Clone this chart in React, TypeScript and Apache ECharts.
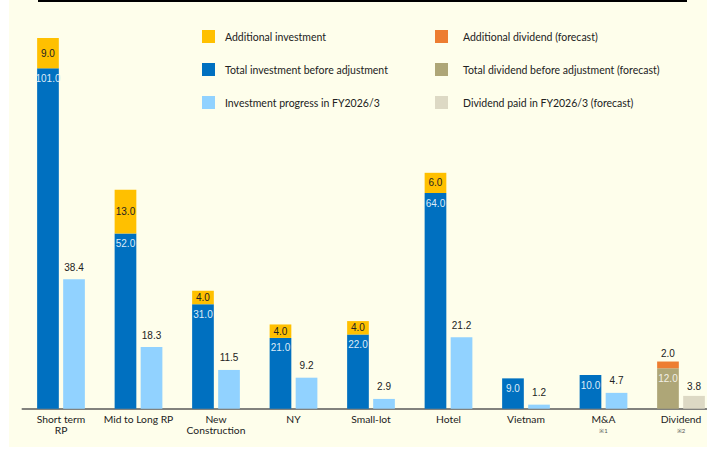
import React, { useEffect, useRef } from "react";
import * as echarts from "echarts";

// Categories along the x axis, with the small footnote marks shown beneath two of them
const categories = [
  "Short term\nRP",
  "Mid to Long RP",
  "New\nConstruction",
  "NY",
  "Small-lot",
  "Hotel",
  "Vietnam",
  "M&A",
  "Dividend",
];
const footnotes = ["", "", "", "", "", "", "", "※1", "※2"];

// Investment plan (stacked: base + additional)
const totalInvestment = [101.0, 52.0, 31.0, 21.0, 22.0, 64.0, 9.0, 10.0, null];
const additionalInvestment = [9.0, 13.0, 4.0, 4.0, 4.0, 6.0, null, null, null];
const investmentProgress = [38.4, 18.3, 11.5, 9.2, 2.9, 21.2, 1.2, 4.7, null];

// Dividend (forecast), only in the last category
const totalDividend = [null, null, null, null, null, null, null, null, 12.0];
const additionalDividend = [null, null, null, null, null, null, null, null, 2.0];
const dividendPaid = [null, null, null, null, null, null, null, null, 3.8];

const C = {
  yellow: "#FFC000",
  blue: "#0070C0",
  lightBlue: "#91D2FF",
  orange: "#ED7D31",
  tan: "#AEA677",
  beige: "#DDD9C4",
  cream: "#FEFEEB",
  text: "#222222",
};

const fmt = (p: any) => (p.value == null ? "" : Number(p.value).toFixed(1));
const BAR_W = 21.7;
const valueFont = { fontFamily: "Liberation Sans, Arial, sans-serif", fontSize: 10 };

// The plot runs a little past the right edge of the visible page,
// so the canvas is wider than the window and the overflow is hidden.
const CANVAS_W = 730;
const CANVAS_H = 450;

export default function App() {
  const ref = useRef<HTMLDivElement>(null);

  useEffect(() => {
    document.body.style.margin = "0";
    document.body.style.overflow = "hidden";
    if (!ref.current) return;
    const chart = echarts.init(ref.current, undefined, { renderer: "svg" });

    const legendText = {
      fontFamily: "Lato, sans-serif",
      fontSize: 10.5,
      color: C.text,
    };

    chart.setOption({
      animation: false,
      backgroundColor: "#ffffff",
      textStyle: { fontFamily: "Lato, sans-serif" },
      graphic: [
        {
          type: "rect",
          z: -10,
          silent: true,
          shape: { x: 9, y: 0, width: CANVAS_W - 9, height: 447 },
          style: { fill: C.cream },
        },
        {
          type: "line",
          silent: true,
          shape: { x1: 38, y1: 1, x2: 687, y2: 1 },
          style: { stroke: "#000000", lineWidth: 2 },
        },
      ],
      legend: [
        {
          orient: "vertical",
          left: 202,
          top: 30,
          itemWidth: 13,
          itemHeight: 13,
          itemGap: 20,
          icon: "rect",
          padding: 0,
          textStyle: { ...legendText, padding: [0, 0, 0, 5] },
          data: [
            "Additional investment",
            "Total investment before adjustment",
            "Investment progress in FY2026/3",
          ],
        },
        {
          orient: "vertical",
          left: 435,
          top: 30,
          itemWidth: 13,
          itemHeight: 13,
          itemGap: 20,
          icon: "rect",
          padding: 0,
          textStyle: { ...legendText, padding: [0, 0, 0, 10] },
          data: [
            "Additional dividend (forecast)",
            "Total dividend before adjustment (forecast)",
            "Dividend paid in FY2026/3 (forecast)",
          ],
        },
      ],
      grid: { left: 22.25, width: 697.5, top: 38, bottom: 41.3, containLabel: false },
      xAxis: {
        type: "category",
        data: categories,
        axisTick: { show: false },
        axisLine: { lineStyle: { color: "#595959", width: 1.5 } },
        axisLabel: {
          interval: 0,
          margin: 5,
          color: C.text,
          fontFamily: "Lato, sans-serif",
          fontSize: 10.3,
          lineHeight: 11,
          formatter: (v: string, i: number) =>
            footnotes[i] ? `${v}\n{note|${footnotes[i]}}` : v,
          rich: {
            note: { fontSize: 6, lineHeight: 11, color: "#555555" },
          },
        },
      },
      yAxis: {
        type: "value",
        min: 0,
        max: 110,
        show: false,
        splitLine: { show: false },
      },
      series: [
        {
          name: "Total investment before adjustment",
          type: "bar",
          stack: "plan",
          barWidth: BAR_W,
          barGap: "20%",
          data: totalInvestment,
          itemStyle: { color: C.blue },
          label: {
            show: true,
            position: "insideTop",
            distance: 5,
            color: "#DDEBF7",
            ...valueFont,
            formatter: fmt,
          },
        },
        {
          name: "Additional investment",
          type: "bar",
          stack: "plan",
          barWidth: BAR_W,
          data: additionalInvestment,
          itemStyle: { color: C.yellow },
          label: {
            show: true,
            position: "inside",
            color: C.text,
            ...valueFont,
            formatter: fmt,
          },
        },
        {
          name: "Total dividend before adjustment (forecast)",
          type: "bar",
          stack: "plan",
          barWidth: BAR_W,
          data: totalDividend,
          itemStyle: { color: C.tan },
          label: {
            show: true,
            position: "insideTop",
            distance: 5,
            color: "#F2F0E6",
            ...valueFont,
            formatter: fmt,
          },
        },
        {
          name: "Additional dividend (forecast)",
          type: "bar",
          stack: "plan",
          barWidth: BAR_W,
          data: additionalDividend,
          itemStyle: { color: C.orange },
          label: {
            show: true,
            position: "top",
            distance: 3,
            color: C.text,
            ...valueFont,
            formatter: fmt,
          },
        },
        {
          name: "Investment progress in FY2026/3",
          type: "bar",
          stack: "actual",
          barWidth: BAR_W,
          barGap: "20%",
          data: investmentProgress,
          itemStyle: { color: C.lightBlue },
          label: {
            show: true,
            position: "top",
            distance: 7,
            color: C.text,
            ...valueFont,
            formatter: fmt,
          },
        },
        {
          name: "Dividend paid in FY2026/3 (forecast)",
          type: "bar",
          stack: "actual",
          barWidth: BAR_W,
          data: dividendPaid,
          itemStyle: { color: C.beige },
          label: {
            show: true,
            position: "top",
            distance: 4,
            color: C.text,
            ...valueFont,
            formatter: fmt,
          },
        },
      ],
    });

    return () => chart.dispose();
  }, []);

  return <div ref={ref} style={{ width: CANVAS_W, height: CANVAS_H }} />;
}
